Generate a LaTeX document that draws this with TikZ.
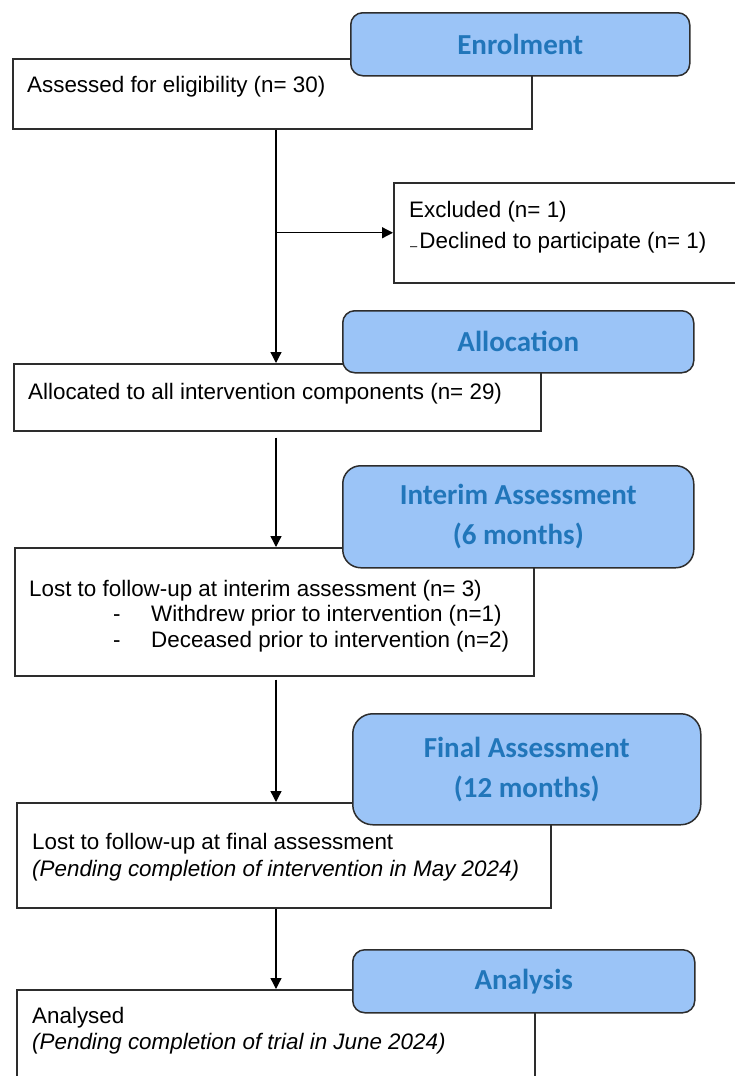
\documentclass[tikz,border=0pt]{standalone}
\usepackage{fontspec}
\setmainfont{Liberation Sans}
\newfontfamily\calib{Carlito}
\usetikzlibrary{arrows.meta}
\definecolor{hdrfill}{RGB}{155,196,247}
\definecolor{hdrtext}{RGB}{33,118,186}
\definecolor{boxline}{RGB}{45,45,45}
\begin{document}
\begin{tikzpicture}[x=1pt,y=-1pt,
  wbox/.style={draw=boxline, line width=1.5pt, fill=white, inner sep=0pt, anchor=north west},
  hbox/.style={draw=boxline, line width=1.5pt, fill=hdrfill, inner sep=0pt, anchor=north west,
     rounded corners=#1, text=hdrtext, align=center,
     font=\calib\bfseries\fontsize{29}{40}\selectfont},
  body/.style={anchor=west, inner sep=0pt, font=\fontsize{22.4}{27}\selectfont,
     text height=16pt, text depth=5pt},
  conn/.style={draw=black, line width=1.3pt, -{Triangle[length=11pt,width=11pt]}},
  plain/.style={draw=black, line width=1.3pt}
]
\useasboundingbox (0,0) rectangle (735,1076);
\fill[white] (0,0) rectangle (735,1076);

% white boxes
\node[wbox, minimum width=519pt, minimum height=70pt] (assess) at (12,58) {};
\node[wbox, minimum width=352pt, minimum height=100pt] (excl) at (393,182) {};
\node[wbox, minimum width=527pt, minimum height=67pt] (alloc) at (13,363) {};
\node[wbox, minimum width=519pt, minimum height=128pt] (lostint) at (14,547) {};
\node[wbox, minimum width=534pt, minimum height=105pt] (lostfin) at (16,802) {};
\node[wbox, minimum width=518pt, minimum height=110pt] (anal) at (16,989) {};

% header boxes
\node[hbox=12pt, minimum width=339pt, minimum height=63pt] (hEnrol) at (350,12) {Enrolment};
\node[hbox=12pt, minimum width=351pt, minimum height=62pt] (hAlloc) at (342,310) {Allocation};
\node[hbox=18pt, minimum width=351pt, minimum height=102pt] (hInterim) at (342,465) {Interim Assessment\\(6 months)};
\node[hbox=20pt, minimum width=348pt, minimum height=111pt] (hFinal) at (352,713) {Final Assessment\\(12 months)};
\node[hbox=12pt, minimum width=342pt, minimum height=63pt] (hAnal) at (352,949) {Analysis};

% texts
\node[body] (tAssess) at (27,87) {Assessed for eligibility (n= 30)};
\node[body] (tExcl1) at (409,212) {Excluded (n= 1)};
\node[body] (tExcl2) at (410,243) {{\fontsize{13}{13}\selectfont \raisebox{-2pt}{–}}\hspace{2pt}Declined to participate (n= 1)};
\node[body] (tAlloc) at (28,394) {Allocated to all intervention components (n= 29)};
\node[body] (tInt1) at (29,591) {Lost to follow-up at interim assessment (n= 3)};
\node[body] (tInt2) at (113,616) {\makebox[38pt][l]{-}Withdrew prior to intervention (n=1)};
\node[body] (tInt3) at (113,642) {\makebox[38pt][l]{-}Deceased prior to intervention (n=2)};
\node[body] (tFin1) at (32,844) {Lost to follow-up at final assessment};
\node[body] (tFin2) at (32,871) {\itshape (Pending completion of intervention in May 2024)};
\node[body] (tAn1) at (32,1018) {Analysed};
\node[body] (tAn2) at (32,1044) {\itshape (Pending completion of trial in June 2024)};

% connectors
\coordinate (spine) at (276,0);
\draw[conn] (assess.south -| spine) -- (alloc.north -| spine);
\draw[conn] (spine |- excl.west) -- (excl.west);
\draw[conn, shorten <=6pt] (alloc.south -| spine) -- (lostint.north -| spine);
\draw[conn, shorten <=3pt] (lostint.south -| spine) -- (lostfin.north -| spine);
\draw[conn] (lostfin.south -| spine) -- (anal.north -| spine);
\end{tikzpicture}
\end{document}
